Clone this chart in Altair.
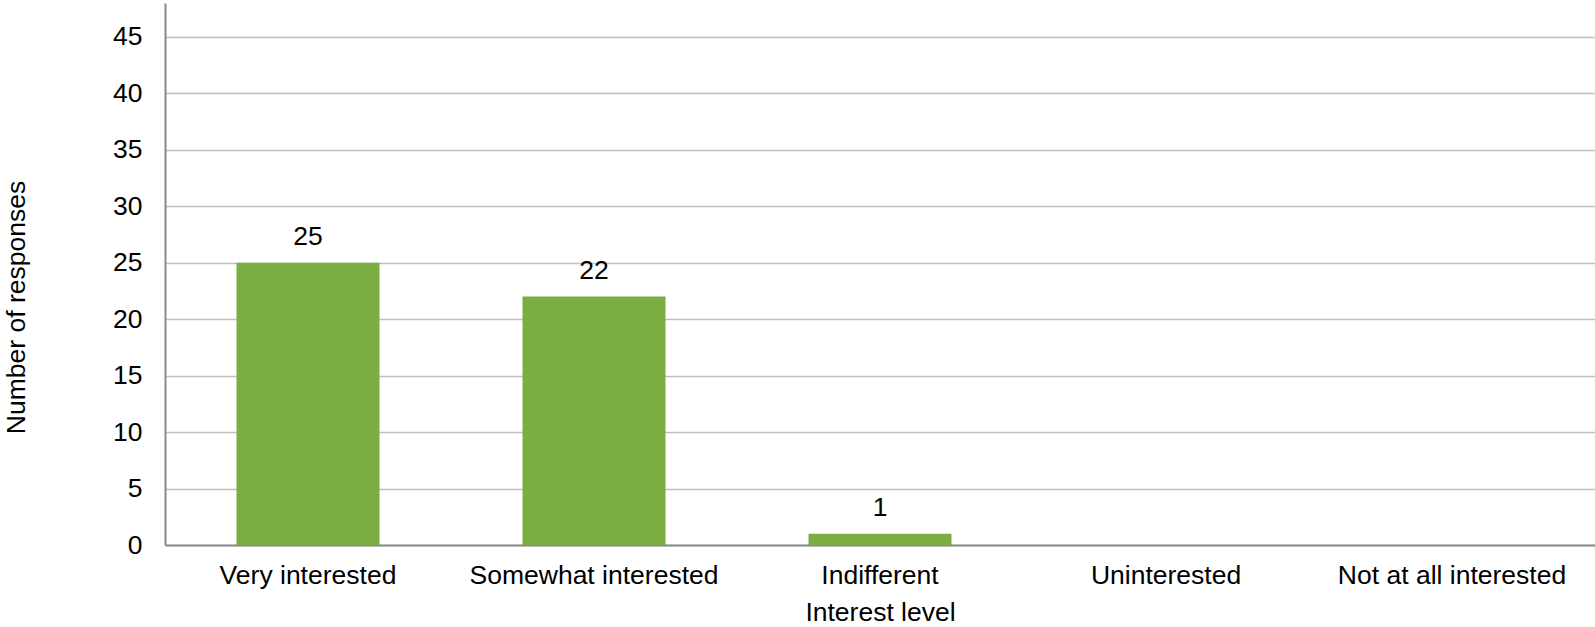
import altair as alt
import pandas as pd

# Survey responses by interest level
levels = ["Very interested", "Somewhat interested", "Indifferent",
          "Uninterested", "Not at all interested"]
responses = [25, 22, 1, 0, 0]
y_ticks = [0, 5, 10, 15, 20, 25, 30, 35, 40, 45]

df = pd.DataFrame({"level": levels, "responses": responses})

FONT = "Liberation Sans"
FS = 26.5

x_enc = alt.X(
    "level:N",
    sort=levels,
    scale=alt.Scale(paddingInner=0.5, paddingOuter=0.25),
    axis=alt.Axis(
        title="Interest level",
        labelAngle=0,
        labelFont=FONT, labelFontSize=FS, labelColor="#000000",
        labelPadding=17, labelLimit=0,
        ticks=False,
        domainColor="#898989", domainWidth=2,
        titleFont=FONT, titleFontSize=FS, titleFontWeight="normal",
        titleColor="#000000",
        titleBaseline="alphabetic", titleY=75,
    ),
)

y_enc = alt.Y(
    "responses:Q",
    scale=alt.Scale(domain=[0, 48], nice=False),
    axis=alt.Axis(
        title="Number of responses",
        values=y_ticks,
        labelFont=FONT, labelFontSize=FS, labelColor="#000000",
        labelPadding=23,
        ticks=False,
        grid=True, gridColor="#c0c0c0", gridWidth=1.7,
        domainColor="#898989", domainWidth=2,
        titleFont=FONT, titleFontSize=FS, titleFontWeight="normal",
        titleColor="#000000",
        titleAngle=270, titleAlign="center", titleBaseline="alphabetic",
        titleX=-141, titleY=304,
    ),
)

bars = alt.Chart(df).mark_bar(color="#7aad42").encode(x=x_enc, y=y_enc)

labels = alt.Chart(df).transform_filter(
    alt.datum.responses > 0
).mark_text(
    font=FONT, fontSize=FS, color="#000000",
    baseline="alphabetic", align="center", dy=-18,
).encode(
    x=alt.X("level:N", sort=levels),
    y=alt.Y("responses:Q"),
    text=alt.Text("responses:Q"),
)

chart = alt.layer(bars, labels).properties(
    width=1430,
    height=542,
    autosize=alt.AutoSizeParams(type="none"),
    padding={"left": 165, "top": 3, "right": 0, "bottom": 82},
    background="#ffffff",
).configure_view(stroke=None)

chart.save("out.html", embed_options={"renderer": "svg", "actions": False})
